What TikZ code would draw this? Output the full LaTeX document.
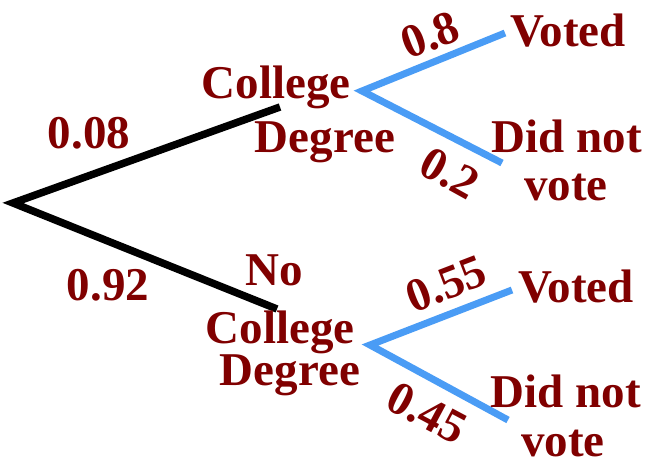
\documentclass[tikz,border=0pt]{standalone}
\usepackage{fontspec}
\setmainfont{Liberation Serif}
\usepackage{xcolor}
\usetikzlibrary{positioning}
\definecolor{maroon}{HTML}{800000}
\definecolor{skyblue}{HTML}{4A9CF5}
\tikzset{
  branch/.style={draw=black,line width=7.5pt},
  subbranch/.style={draw=skyblue,line width=7pt},
  lbl/.style={font=\fontsize{47}{50}\selectfont\bfseries,text=maroon,inner sep=0pt,anchor=base},
  prob/.style={lbl,anchor=center},
}
\begin{document}
\begin{tikzpicture}[x=1pt,y=-1pt]
  \useasboundingbox (0,0) rectangle (647,460);
  % branch points
  \coordinate (root) at (13,203);
  \coordinate (cd) at (280,107);
  \coordinate (ncd) at (277,309);
  \coordinate (cdfork) at (362,91);
  \coordinate (ncdfork) at (370,345);
  \coordinate (cdv) at (505,33);
  \coordinate (cdn) at (502,163);
  \coordinate (ncdv) at (512,290);
  \coordinate (ncdn) at (508,420);

  % first stage
  \draw[branch] (cd) -- (root) -- (ncd);
  \node[lbl] (p08) at (89,148) {0.08};
  \node[lbl] (p92) at (108,300) {0.92};
  \node[lbl] (college1) at (276,98) {College};
  \node[lbl] (degree1) at (325,152) {Degree};
  \node[lbl] (no2) at (274,285) {No};
  \node[lbl] (college2) at (280,343) {College};
  \node[lbl] (degree2) at (290,385) {Degree};

  % second stage
  \draw[subbranch] (cdv) -- (cdfork) -- (cdn);
  \draw[subbranch] (ncdv) -- (ncdfork) -- (ncdn);
  \node[prob,rotate=21] (p8) at (430,35) {0.8};
  \node[prob,rotate=-29] (p2) at (450,173) {0.2};
  \node[prob,rotate=21] (p55) at (446,284) {0.55};
  \node[prob,rotate=-28] (p45) at (427,413) {0.45};
  \node[lbl] (voted1) at (568,47) {Voted};
  \node[lbl] (didnot1) at (567,152) {Did not};
  \node[lbl] (vote1) at (566,200) {vote};
  \node[lbl] (voted2) at (576,302) {Voted};
  \node[lbl] (didnot2) at (566,407) {Did not};
  \node[lbl] (vote2) at (563,456) {vote};
\end{tikzpicture}
\end{document}
